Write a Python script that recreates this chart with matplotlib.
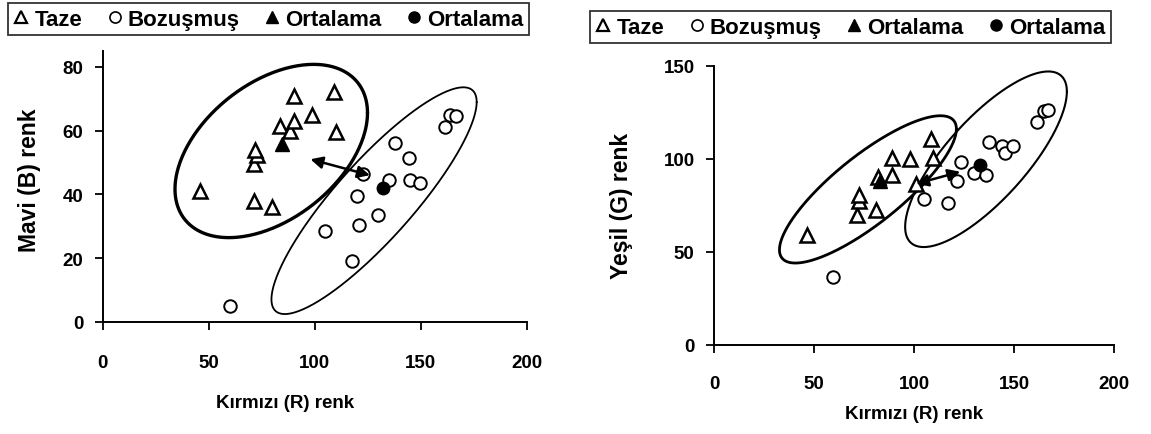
import numpy as np
import matplotlib
matplotlib.use("Agg")
import matplotlib.pyplot as plt
from matplotlib.lines import Line2D

plt.rcParams['font.family'] = ['Liberation Sans', 'DejaVu Sans']
plt.rcParams['font.weight'] = 'bold'
plt.rcParams['axes.labelweight'] = 'bold'

# ---------------- data ----------------
# Left panel: Kırmızı (R) vs Mavi (B)
left_taze_r = [46, 71.5, 80, 71.5, 73, 72, 83.5, 88.5, 90, 90, 98.5, 109, 110]
left_taze_b = [41, 38, 36, 49.5, 52.5, 54, 61.5, 60, 63, 71, 65, 72, 59.5]
left_boz_r = [164, 166.5, 161.5, 138, 144.5, 123, 135, 145, 149.5, 120, 130, 121, 105, 117.5, 60]
left_boz_b = [65, 64.5, 61, 56, 51.5, 46.5, 44.5, 44.5, 43.7, 39.5, 33.5, 30.3, 28.5, 19, 5]
left_mean_taze = [84.5, 55.7]
left_mean_boz = [132, 42]
left_arrow = [[98, 51], [126, 46]]
# ellipse params: centre x, x half-range, centre y, y half-range, cos(phase)
left_ell_taze = [79.5, 45.4, 53.6, 27.2, 0.44]
left_ell_boz = [128, 48.4, 38.0, 35.6, 0.87]

# Right panel: Kırmızı (R) vs Yeşil (G)
right_taze_r = [46.3, 71.4, 72.3, 72.3, 80.7, 82, 89, 89, 98, 108.5, 109.5, 101]
right_taze_g = [59, 70, 77, 80.5, 72.5, 90, 100.4, 91.5, 100, 110.5, 100.5, 86.5]
right_boz_r = [59.4, 105, 117, 121.5, 123.5, 130, 135.7, 137.3, 143.8, 145.5, 149.5, 161.2, 164.7, 167]
right_boz_g = [36.5, 78.5, 76.3, 88, 98, 92.5, 91.5, 108.8, 106.7, 103.2, 106.7, 119.5, 125.7, 126]
right_mean_taze = [83, 88]
right_mean_boz = [133, 96.6]
right_arrow = [[101, 86.5], [123, 93]]
right_ell_taze = [76.9, 44.2, 83.5, 39.6, 0.82]
right_ell_boz = [135.9, 40.4, 99.7, 47.2, 0.77]

xticks = [0, 50, 100, 150, 200]
left_yticks = [0, 20, 40, 60, 80]
right_yticks = [0, 50, 100, 150]
legend_labels = ['Taze', 'Bozuşmuş', 'Ortalama', 'Ortalama']

W, H = 1151, 435
fig = plt.figure(figsize=(W / 100, H / 100), dpi=100)
FS = 13.5
YFS = 16.5


def ax_rect(x0, x1, ytop, ybot):
    return [x0 / W, 1 - ybot / H, (x1 - x0) / W, (ybot - ytop) / H]


def ellipse(ax, p, lw):
    t = np.linspace(0, 2 * np.pi, 300)
    cx, rx, cy, ry, c = p
    d = np.arccos(c)
    ax.plot(cx + rx * np.cos(t), cy + ry * np.cos(t - d), color='black', lw=lw,
            solid_capstyle='round', zorder=2)


def panel(rect, tr, tv, br, bv, mt, mb, arrow, et, eb, ylim, yticks, ylabel,
          lw_t, lw_b, xpad, xlab_pos, ylab_pos):
    ax = fig.add_axes(rect)
    ellipse(ax, et, lw_t)
    ellipse(ax, eb, lw_b)
    ax.plot(br, bv, 'o', ms=9, mfc='white', mec='black', mew=1.4, ls='none', zorder=3)
    ax.plot(tr, tv, '^', ms=9.5, mfc='white', mec='black', mew=1.8, ls='none', zorder=4)
    ax.plot([mt[0]], [mt[1]], '^', ms=9.5, mfc='black', mec='black', ls='none', zorder=5)
    ax.plot([mb[0]], [mb[1]], 'o', ms=9, mfc='black', mec='black', ls='none', zorder=5)
    ax.annotate('', xy=arrow[1], xytext=arrow[0],
                arrowprops=dict(arrowstyle='<|-|>', color='black', lw=1.8,
                                mutation_scale=18, shrinkA=0, shrinkB=0), zorder=6)
    ax.set_xlim(0, 200)
    ax.set_ylim(*ylim)
    ax.set_xticks(xticks)
    ax.set_yticks(yticks)
    for s in ['top', 'right']:
        ax.spines[s].set_visible(False)
    for s in ['left', 'bottom']:
        ax.spines[s].set_linewidth(1.4)
    ax.tick_params(axis='x', direction='out', length=6, width=1.3, labelsize=FS, pad=xpad)
    ax.tick_params(axis='y', direction='out', length=6, width=1.3, labelsize=FS, pad=8)
    ax.set_xlabel('Kırmızı (R) renk', fontsize=FS, fontweight='bold', va='center')
    ax.set_ylabel(ylabel, fontsize=YFS, fontweight='bold', va='center')
    ax.xaxis.set_label_coords(*xlab_pos)
    ax.yaxis.set_label_coords(*ylab_pos)
    return ax


axL = panel(ax_rect(102.7, 526.7, 52, 322.7), left_taze_r, left_taze_b, left_boz_r,
            left_boz_b, left_mean_taze, left_mean_boz, left_arrow, left_ell_taze,
            left_ell_boz, (0, 85), left_yticks, 'Mavi (B) renk', 2.4, 1.3, 17,
            (0.43, -0.298), (-0.173, 0.527))
axR = panel(ax_rect(714, 1114.3, 66.7, 345.7), right_taze_r, right_taze_g, right_boz_r,
            right_boz_g, right_mean_taze, right_mean_boz, right_arrow, right_ell_taze,
            right_ell_boz, (0, 150), right_yticks, 'Yeşil (G) renk', 2.0, 1.5, 16,
            (0.5, -0.248), (-0.232, 0.5))

handles = [
    Line2D([], [], marker='^', ms=8.5, mfc='white', mec='black', mew=1.6, ls='none'),
    Line2D([], [], marker='o', ms=8, mfc='white', mec='black', mew=1.2, ls='none'),
    Line2D([], [], marker='^', ms=8.5, mfc='black', mec='black', ls='none'),
    Line2D([], [], marker='o', ms=8, mfc='black', mec='black', ls='none'),
]


def legend(x0, ytop):
    leg = fig.legend(handles, legend_labels, ncol=4, loc='upper left',
                     bbox_to_anchor=(x0 / W, 1 - ytop / H),
                     borderaxespad=0, fontsize=16, frameon=True,
                     fancybox=False, edgecolor='black', handlelength=0.7,
                     handletextpad=0.25, columnspacing=1.1, borderpad=0.25)
    leg.get_frame().set_linewidth(1.3)
    return leg


legend(8, 4)
legend(590, 12)

fig.savefig('out.png', dpi=100)
